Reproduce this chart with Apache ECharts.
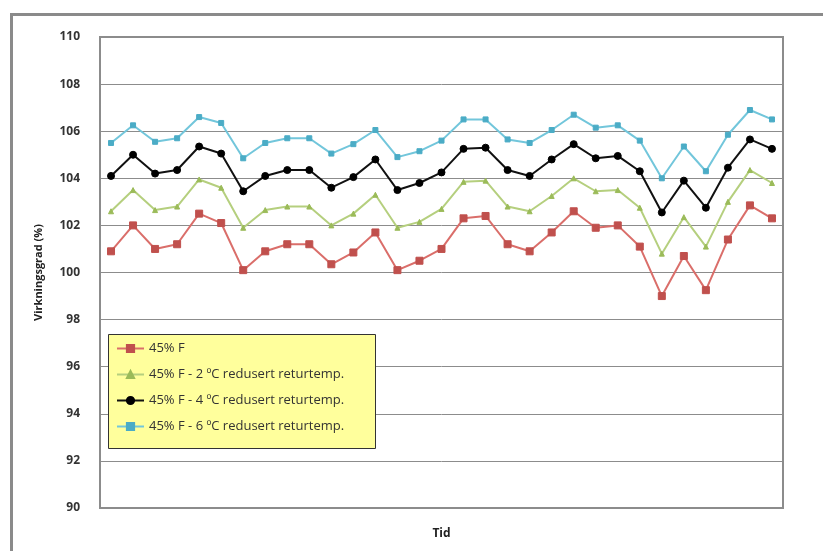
<!DOCTYPE html>
<html>
<head>
<meta charset="utf-8">
<script src="https://cdn.jsdelivr.net/npm/echarts@6/dist/echarts.min.js"></script>
<style>
  html, body { margin: 0; padding: 0; background: #fff; }
  #chart { width: 823px; height: 551px; }
</style>
</head>
<body>
<div id="chart"></div>
<script>
// Time steps along the x axis (unlabelled)
const categories = Array.from({ length: 31 }, (_, i) => String(i + 1));

const seriesNames = [
  '45% F',
  '45% F - 2 ºC redusert returtemp.',
  '45% F - 4 ºC redusert returtemp.',
  '45% F - 6 ºC redusert returtemp.'
];

const base45 = [100.9, 102.0, 101.0, 101.2, 102.5, 102.1, 100.1, 100.9, 101.2, 101.2,
  100.35, 100.85, 101.7, 100.1, 100.5, 101.0, 102.3, 102.4, 101.2, 100.9,
  101.7, 102.6, 101.9, 102.0, 101.1, 99.0, 100.7, 99.25, 101.4, 102.85, 102.3];

const minus2 = [102.6, 103.5, 102.65, 102.8, 103.95, 103.6, 101.9, 102.65, 102.8, 102.8,
  102.0, 102.5, 103.3, 101.9, 102.15, 102.7, 103.85, 103.9, 102.8, 102.6,
  103.25, 104.0, 103.45, 103.5, 102.75, 100.8, 102.35, 101.1, 103.0, 104.35, 103.8];

const minus4 = [104.1, 105.0, 104.2, 104.35, 105.35, 105.05, 103.45, 104.1, 104.35, 104.35,
  103.6, 104.05, 104.8, 103.5, 103.8, 104.25, 105.25, 105.3, 104.35, 104.1,
  104.8, 105.45, 104.85, 104.95, 104.3, 102.55, 103.9, 102.75, 104.45, 105.65, 105.25];

const minus6 = [105.5, 106.25, 105.55, 105.7, 106.6, 106.35, 104.85, 105.5, 105.7, 105.7,
  105.05, 105.45, 106.05, 104.9, 105.15, 105.6, 106.5, 106.5, 105.65, 105.5,
  106.05, 106.7, 106.15, 106.25, 105.6, 104.0, 105.35, 104.3, 105.85, 106.9, 106.5];

const yMin = 90, yMax = 110, yStep = 2;

const font = '"Open Sans", "Liberation Sans", sans-serif';

function lineSeries(name, data, lineColor, markColor, symbol, size) {
  return {
    name: name,
    type: 'line',
    data: data,
    symbol: symbol,
    symbolSize: size,
    showAllSymbol: true,
    lineStyle: { color: lineColor, width: 2 },
    itemStyle: { color: markColor, borderColor: markColor, borderWidth: 1 },
    emphasis: { disabled: true },
    z: 3
  };
}

const chart = echarts.init(document.getElementById('chart'), null, { renderer: 'canvas' });

chart.setOption({
  animation: false,
  backgroundColor: '#ffffff',
  graphic: [
    {
      // outer chart frame, running off the right and bottom edges
      type: 'rect',
      left: 9, top: 12,
      shape: { x: 0, y: 0, width: 830, height: 560 },
      style: { fill: 'none', stroke: '#8a8a8a', lineWidth: 3 },
      z: -1
    },
    {
      // legend box
      type: 'rect',
      left: 108, top: 334,
      shape: { x: 0, y: 0, width: 267, height: 114 },
      style: { fill: '#FFFF9C', stroke: '#333333', lineWidth: 1 },
      z: 4
    }
  ],
  grid: { left: 100, top: 37, width: 683, height: 471, show: true,
          borderColor: '#8c8c8c', borderWidth: 2, backgroundColor: '#ffffff' },
  legend: {
    orient: 'vertical',
    left: 108, top: 334,
    padding: [8, 8, 8, 8],
    itemGap: 13,
    itemWidth: 27, itemHeight: 9,
    textStyle: { fontFamily: font, fontSize: 13, color: '#333333' },
    data: seriesNames,
    z: 5
  },
  xAxis: {
    type: 'category',
    data: categories,
    boundaryGap: true,
    name: 'Tid',
    nameLocation: 'middle',
    nameGap: 20,
    nameTextStyle: { fontFamily: font, fontSize: 12, fontWeight: 'bold', color: '#222' },
    axisLine: { show: false },
    axisTick: { show: false },
    axisLabel: { show: false },
    splitLine: { show: false }
  },
  yAxis: {
    type: 'value',
    min: yMin, max: yMax, interval: yStep,
    name: 'Virkningsgrad (%)',
    nameLocation: 'middle',
    nameGap: 56,
    nameTextStyle: { fontFamily: font, fontSize: 11, fontWeight: 'bold', color: '#222' },
    axisLine: { show: false },
    axisTick: { show: false },
    axisLabel: { fontFamily: font, fontSize: 12, fontWeight: 'bold', color: '#333', margin: 20 },
    splitLine: { lineStyle: { color: '#8c8c8c', width: 1 } }
  },
  series: [
    lineSeries(seriesNames[0], base45, '#DA6E6A', '#C0504D', 'rect', 7),
    lineSeries(seriesNames[1], minus2, '#B5CF7E', '#9BBB59', 'triangle', 5),
    lineSeries(seriesNames[2], minus4, '#111111', '#000000', 'circle', 7),
    lineSeries(seriesNames[3], minus6, '#72C6DB', '#4BACC6', 'rect', 5)
  ]
});
</script>
</body>
</html>
